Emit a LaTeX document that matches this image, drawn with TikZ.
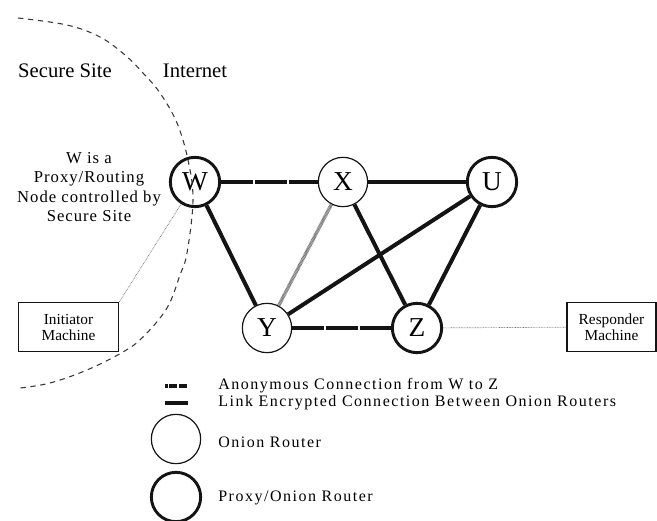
\documentclass[tikz,border=0pt]{standalone}
\usepackage{fontspec}
\setmainfont{Liberation Serif}
\newfontfamily\notefont[LetterSpace=6]{Liberation Serif}
\newfontfamily\keyfont[LetterSpace=9.5]{Liberation Serif}
\usetikzlibrary{positioning}
\definecolor{torInk}{HTML}{141414}
\definecolor{torGrey}{HTML}{777777}

\begin{document}
\begin{tikzpicture}[x=0.75pt, y=-0.75pt,
    onion/.style={draw=torInk, circle, line width=0.9pt, minimum size=37pt, inner sep=0pt, font=\fontsize{20.5}{24}\selectfont},
    proxy/.style={onion, line width=2.2pt},
    link/.style={draw=torInk, line width=3pt},
    anon/.style={link, dash pattern=on 24pt off 1.3pt},
    hatched/.style={draw=torGrey, line width=2.6pt, dash pattern=on 0.6pt off 0.4pt},
    machine/.style={draw=torInk, line width=0.8pt, minimum width=75.5pt, minimum height=37pt, inner sep=1pt, align=center, font=\fontsize{11.5}{12}\selectfont},
    wire/.style={draw=torGrey, line width=0.5pt, dash pattern=on 0.6pt off 0.6pt},
    keytext/.style={anchor=west, inner sep=0pt, font=\keyfont\fontsize{12}{14}\selectfont}]
  \useasboundingbox (0,0) rectangle (657,521);

  % routers
  \node[proxy] (w) at (195,182) {W};
  \node[onion] (x) at (343,182) {X};
  \node[proxy] (u) at (492,182) {U};
  \node[onion] (y) at (267,328) {Y};
  \node[proxy] (z) at (417,328) {Z};

  % end machines
  \node[machine] (init) at (68.5,327) {Initiator\\Machine};
  \node[machine, minimum width=66.75pt] (resp) at (611.5,327) {Responder\\Machine};

  % labels
  \node[font=\fontsize{15.5}{18}\selectfont] (secure) at (65,71) {Secure Site};
  \node[font=\fontsize{15.5}{18}\selectfont] (inet) at (195,71) {Internet};
  \node[align=center, font=\notefont\fontsize{12.5}{14.6}\selectfont] (wnote) at (89,187) {W is a\\Proxy/Routing\\Node controlled by\\Secure Site};

  % links
  \draw[anon] (w) -- (x);
  \draw[link] (x) -- (u);
  \draw[link] (w) -- (y);
  \draw[hatched] (x) -- (y);
  \draw[link] (x) -- (z);
  \draw[link] (y) -- (u);
  \draw[link] (u) -- (z);
  \draw[anon] (y) -- (z);
  \draw[wire] (init.north east) -- (w);
  \draw[wire] (z) -- (resp);

  % border of the secure site
  \draw[torInk!85, line width=0.8pt, dash pattern=on 4pt off 3.5pt] plot[smooth, tension=0.6] coordinates {(18,18) (67,25) (100,37) (125,55) (143,73) (160,93) (177,123) (188,160) (193,200) (187,253) (180,275) (167,308) (143,337) (123,352) (87,370) (50,383) (20,388)};

  % legend
  \coordinate (k1) at (165,386);
  \coordinate (k2) at (188,386);
  \coordinate (k3) at (165,403);
  \coordinate (k4) at (188,403);
  \draw[link, dash pattern=on 2.2pt off 1.1pt on 6pt off 1.1pt on 6pt off 1pt] (k1) -- (k2);
  \draw[link] (k3) -- (k4);
  \node[onion] (ko) at (176,439) {};
  \node[proxy] (kp) at (176,497) {};
  \node[keytext] (t1) at (218,386) {Anonymous Connection from W to Z};
  \node[keytext] (t2) at (218,403) {Link Encrypted Connection Between Onion Routers};
  \node[keytext] (t3) at (218,442) {Onion Router};
  \node[keytext] (t4) at (218,498) {Proxy/Onion Router};
\end{tikzpicture}
\end{document}
